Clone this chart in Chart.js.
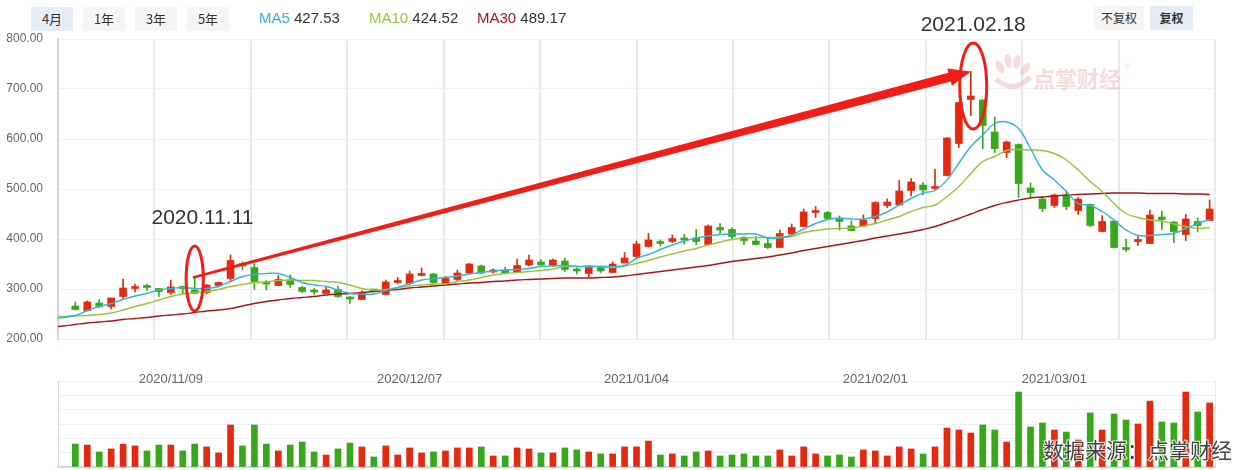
<!DOCTYPE html>
<html>
<head>
<meta charset="utf-8">
<title>K线图</title>
<style>
    body { margin: 0; background: #fff; }
    #wrap { position: relative; width: 1239px; height: 470px; overflow: hidden; font-family: "Liberation Sans", Arial, sans-serif; }
    canvas { position: absolute; left: 0; }
    #priceChart { top: 0; }
    #volChart { top: 350px; }
    .btn { position: absolute; top: 7px; height: 24px; line-height: 24px; text-align: center; font-size: 13px; color: #333;
           background: #f5f5f5; font-family: "Noto Sans CJK SC", sans-serif; }
    .btn.on { background: #e6edf6; }
    .ma { position: absolute; top: 7px; font-size: 15px; line-height: 22px; color: #333; white-space: nowrap; }
</style>
</head>
<body>
<div id="wrap">
    <canvas id="priceChart" width="1239" height="369"></canvas>
    <canvas id="volChart" width="1239" height="120"></canvas>
    <div class="btn on" style="left:31px;width:42px">4月</div>
    <div class="btn" style="left:83px;width:42px">1年</div>
    <div class="btn" style="left:135px;width:42px">3年</div>
    <div class="btn" style="left:187px;width:42px">5年</div>
    <div id="legend"></div>
    <div class="btn" style="left:1094px;top:6px;width:50px;font-size:12px">不复权</div>
    <div class="btn on" style="left:1150px;top:6px;width:43px;font-size:12px;font-weight:bold">复权</div>
</div>
<script src="https://cdn.jsdelivr.net/npm/chart.js"></script>
<script>
    // trading days shown (4月 view)
    const dates = [
        '2020/10/28','2020/10/29','2020/10/30',
        '2020/11/02','2020/11/03','2020/11/04','2020/11/05','2020/11/06','2020/11/09','2020/11/10','2020/11/11','2020/11/12','2020/11/13',
        '2020/11/16','2020/11/17','2020/11/18','2020/11/19','2020/11/20','2020/11/23','2020/11/24','2020/11/25','2020/11/26','2020/11/27','2020/11/30',
        '2020/12/01','2020/12/02','2020/12/03','2020/12/04','2020/12/07','2020/12/08','2020/12/09','2020/12/10','2020/12/11',
        '2020/12/14','2020/12/15','2020/12/16','2020/12/17','2020/12/18','2020/12/21','2020/12/22','2020/12/23','2020/12/24','2020/12/25',
        '2020/12/28','2020/12/29','2020/12/30','2020/12/31',
        '2021/01/04','2021/01/05','2021/01/06','2021/01/07','2021/01/08','2021/01/11','2021/01/12','2021/01/13','2021/01/14','2021/01/15',
        '2021/01/18','2021/01/19','2021/01/20','2021/01/21','2021/01/22','2021/01/25','2021/01/26','2021/01/27','2021/01/28','2021/01/29',
        '2021/02/01','2021/02/02','2021/02/03','2021/02/04','2021/02/05','2021/02/08','2021/02/09','2021/02/10','2021/02/18','2021/02/19',
        '2021/02/22','2021/02/23','2021/02/24','2021/02/25','2021/02/26',
        '2021/03/01','2021/03/02','2021/03/03','2021/03/04','2021/03/05','2021/03/08','2021/03/09','2021/03/10','2021/03/11','2021/03/12',
        '2021/03/15','2021/03/16','2021/03/17','2021/03/18'
    ];
    const opens = [266,257,272,265,285,301,304,301,293,302, 298,293,307,321,351,343,313,307,318,303,
                   295,291,299,282,279,297,289,313,311,327, 330,311,319,332,346,334,338,333,348,354,
                   347,356,338,331,343,333,352,365,385,392, 395,401,402,389,423,419,403,396,391,383,
                   410,425,453,453,440,426,426,441,467,468, 497,508,501,527,591,679,678,614,573,589,
                   502,480,467,487,457,469,415,436,383,395, 391,444,434,409,435,437];
    const highs = [274,276,279,282,320,310,310,301,318,306, 323,309,314,368,354,350,317,327,328,305,
                   301,305,305,285,297,298,318,323,336,342, 331,325,338,351,348,340,344,360,368,359,
                   360,362,342,347,346,354,373,396,411,398, 408,409,419,428,431,423,405,405,401,418,
                   430,460,465,455,446,436,448,475,480,517, 521,513,540,603,674,735,679,644,596,590,
                   512,485,490,496,483,470,447,437,400,405, 458,456,435,449,442,478];
    const lows = [258,256,263,260,281,294,297,285,289,290, 291,290,306,317,339,299,298,307,303,293,
                  289,291,283,271,279,294,289,311,309,326, 311,310,316,331,331,332,332,333,346,347,
                  346,335,330,323,333,333,352,361,384,386, 393,390,389,389,411,399,389,388,381,383,
                  410,424,443,441,418,417,426,431,463,468, 486,488,499,526,583,647,581,573,563,483,
                  483,455,463,459,449,425,414,382,375,387, 391,419,393,397,415,437];
    const closes = [259,274,265,282,302,303,303,295,304,301, 291,308,313,357,346,315,310,319,309,295,
                    294,298,285,280,293,296,314,316,330,330, 313,322,332,350,332,338,332,347,358,348,
                    358,339,336,346,336,350,362,390,398,391, 401,398,395,426,418,405,397,389,383,411,
                    423,454,455,441,435,417,438,473,474,496, 514,498,502,602,673,686,627,581,594,511,
                    493,461,488,465,480,427,435,383,379,398, 448,439,415,440,427,460];
    // volume, read in tenths of a grid step
    const volumes = [16,15.3,10.5,12.6,16,14.7,11.2,15.3,15.3,11.2, 16,14,9.8,29.3,14.7,29.3,16,11.2,15.3,17.4,
                     10.5,8.4,12.6,16.7,14,7,14.7,8.4,13.3,9.8, 10.5,11.2,13.3,13.3,14,7.7,7.7,13.3,12.6,9.8,
                     9.8,13.3,11.9,10.5,9.1,9.1,14,14,18.1,8.4, 9.1,7.7,10.5,11.2,7.7,8.4,9.1,7.7,7.7,11.9,
                     7.7,14,9.1,7.7,8.4,7,11.9,11.2,7.7,14, 12.6,9.1,14,27.2,25.8,23.7,29.3,25.8,17.4,52.3,
                     27.9,30.7,25.8,24.4,18.8,37.7,25.8,37,32.8,30, 46,31.4,30.7,52.3,38.4,44.7];
    // moving averages, first two values belong to the two days before 2020/10/28
    const maFrom = -2;
    const ma5 = [240,243, 247,257,265,271,279,286,291,298,301,303, 301,301,305,315,325,329,331,331,323,313,
                 308,305,298,291,290,290,297,303,311,318, 321,323,326,330,333,336,338,339,341,345,
                 346,347,345,345,345,345,347,361,369,379, 388,396,402,406,409,410,410,410,402,402,
                 408,420,431,439,442,440,440,445,454,468, 481,492,497,518,552,585,608,631,634,621,
                 581,538,518,495,471,467,455,438,418,407, 407,409,411,421,431,439];
    const ma10 = [244,245, 246,247,249,252,258,265,271,278,285,290, 293,295,299,305,309,313,314,317,318,317,
                  317,315,313,308,301,298,299,303,306,308, 310,310,315,318,323,328,331,333,335,337,
                  340,345,345,345,345,343,346,351,357,364, 370,376,381,388,394,399,402,403,403,404,
                  405,413,417,420,421,422,426,431,438,445, 455,463,468,485,505,531,555,565,577,579,
                  578,577,571,558,538,515,495,471,451,443, 438,436,430,425,421,423];
    const ma30 = [224,226, 229,232,234,236,239,241,243,246,248,250, 253,256,258,261,266,271,275,278,281,283,
                  285,288,290,291,293,295,297,299,302,304, 306,308,310,312,313,315,316,318,319,320,
                  321,322,322,322,323,324,326,329,332,335, 338,341,344,347,351,355,358,361,364,368,
                  372,377,381,385,389,393,397,402,406,410, 414,419,425,433,441,450,459,467,473,478,
                  482,484,486,488,489,490,491,492,492,492, 491,491,491,490,490,489];

    const maNames = ['MA5', 'MA10', 'MA30'];
    const maLast = ['427.53', '424.52', '489.17'];
    const tickDates = ['2020/11/09', '2020/12/07', '2021/01/04', '2021/02/01', '2021/03/01'];
    const markDates = ['2020/11/11', '2021/02/18'];

    const upColor = '#e4290f';
    const downColor = '#37a817';
    const maColors = ['#34b4d9', '#98c43b', '#a5161d'];
    const markRed = '#f21d17';
    const xMin = -1.45, xMax = 95.45;

    Chart.defaults.font.family = '"Liberation Sans", Arial, sans-serif';
    Chart.defaults.animation = false;

    // header legend
    const legendLeft = [259, 369, 477];
    document.getElementById('legend').innerHTML = maNames.map((n, k) =>
        '<div class="ma" style="left:' + legendLeft[k] + 'px"><span style="color:' + maColors[k] + '">' + n + '</span> ' + maLast[k] + '</div>'
    ).join('');

    const candleColors = closes.map((c, i) => c >= opens[i] ? upColor : downColor);
    const idx = d => dates.indexOf(d);
    const i1 = idx(markDates[0]), i2 = idx(markDates[1]);

    const markPlugin = {
        id: 'marks',
        beforeDatasetsDraw(chart) {
            // faint watermark
            const ctx = chart.ctx, area = chart.chartArea;
            ctx.save();
            ctx.fillStyle = 'rgba(236,150,150,0.35)';
            const lx = area.right - 215, ly = area.top + 22;
            [[0, 6, -0.5], [8, 0, -0.15], [17, 1, 0.2], [25, 8, 0.6]].forEach(p => {
                ctx.beginPath(); ctx.ellipse(lx + p[0], ly + p[1], 3.5, 7, p[2], 0, Math.PI * 2); ctx.fill();
            });
            ctx.lineWidth = 5; ctx.strokeStyle = 'rgba(236,150,150,0.35)';
            ctx.beginPath(); ctx.moveTo(lx - 4, ly + 18); ctx.quadraticCurveTo(lx + 14, ly + 34, lx + 30, ly + 16); ctx.stroke();
            ctx.font = 'bold 22px "Noto Sans CJK SC", sans-serif';
            ctx.textBaseline = 'middle';
            ctx.fillText('点掌财经', lx + 33, ly + 18);
            ctx.font = '9px "Liberation Sans", sans-serif';
            ctx.fillText('®', lx + 124, ly + 7);
            ctx.restore();
        },
        afterDatasetsDraw(chart) {
            const {ctx, scales: {x, y}} = chart;
            ctx.save();
            // rings round the two marked candles
            ctx.strokeStyle = markRed; ctx.lineWidth = 3;
            [[i1, 321, 0.72, 65], [i2 + 0.2, 706, 1.13, 86]].forEach(r => {
                const cx = x.getPixelForValue(r[0]), cy = y.getPixelForValue(r[1]);
                const rx = Math.abs(x.getPixelForValue(r[0] + r[2]) - cx);
                const ry = Math.abs(y.getPixelForValue(r[1] + r[3]) - cy);
                ctx.beginPath(); ctx.ellipse(cx, cy, rx, ry, 0, 0, Math.PI * 2); ctx.stroke();
            });
            // arrow from the 11/11 high to the 02/18 high
            const x0 = x.getPixelForValue(i1 - 0.15), y0 = y.getPixelForValue(highs[i1]);
            const x1 = x.getPixelForValue(i2), y1 = y.getPixelForValue(highs[i2]);
            const len = Math.hypot(x1 - x0, y1 - y0);
            const ux = (x1 - x0) / len, uy = (y1 - y0) / len, nx = -uy, ny = ux;
            const headLen = 22, headW = 9, w0 = 1.2, w1 = 4.6;
            const bx = x1 - ux * headLen, by = y1 - uy * headLen;
            ctx.fillStyle = markRed;
            ctx.beginPath();
            ctx.moveTo(x0 + nx * w0, y0 + ny * w0);
            ctx.lineTo(bx + nx * w1, by + ny * w1);
            ctx.lineTo(bx + nx * headW, by + ny * headW);
            ctx.lineTo(x1, y1);
            ctx.lineTo(bx - nx * headW, by - ny * headW);
            ctx.lineTo(bx - nx * w1, by - ny * w1);
            ctx.lineTo(x0 - nx * w0, y0 - ny * w0);
            ctx.closePath();
            ctx.fill();
            // date captions
            ctx.font = '21px "Liberation Sans", Arial, sans-serif';
            ctx.fillStyle = '#333'; ctx.textAlign = 'center'; ctx.textBaseline = 'middle';
            ctx.fillText(markDates[0].replace(/\//g, '.'), x.getPixelForValue(i1 + 0.65), y.getPixelForValue(442));
            ctx.fillText(markDates[1].replace(/\//g, '.'), x.getPixelForValue(i2 + 0.2), y.getPixelForValue(828));
            ctx.restore();
        }
    };

    const evenTicks = axis => {
        axis.ticks = [];
        for (let k = 0; k <= 12; k++) axis.ticks.push({value: xMin + k * (xMax - xMin) / 12});
    };
    const maSet = (vals, k) => ({
        type: 'line', label: maNames[k],
        data: vals.map((v, j) => ({x: j + maFrom, y: v})),
        borderColor: maColors[k], borderWidth: 1.4, pointRadius: 0, tension: 0.4, clip: 0
    });

    new Chart(document.getElementById('priceChart'), {
        type: 'bar',
        data: {
            datasets: [
                maSet(ma5, 0), maSet(ma10, 1), maSet(ma30, 2),
                {label: 'body', data: opens.map((o, i) => ({x: i, y: [o, closes[i]]})),
                 backgroundColor: candleColors, barThickness: 7, minBarLength: 2, grouped: false},
                {label: 'wick', data: lows.map((l, i) => ({x: i, y: [l, highs[i]]})),
                 backgroundColor: candleColors, barThickness: 1, grouped: false}
            ]
        },
        options: {
            responsive: false,
            devicePixelRatio: 1,
            layout: {padding: {top: 39, right: 24, bottom: 30, left: 0}},
            plugins: {legend: {display: false}, tooltip: {enabled: false}},
            scales: {
                x: {
                    type: 'linear', min: xMin, max: xMax, offset: false,
                    afterBuildTicks: evenTicks,
                    afterFit: s => { s.height = 0; },
                    ticks: {display: false},
                    grid: {color: '#e5eaf1', lineWidth: 2, drawTicks: false, offset: false},
                    border: {display: false}
                },
                y: {
                    min: 200, max: 800,
                    afterFit: s => { s.width = 58; },
                    ticks: {stepSize: 100, padding: 15, color: '#666', font: {size: 12}, callback: v => v.toFixed(2)},
                    grid: {color: '#edf0f4', drawTicks: false},
                    border: {color: '#cdd7e5', width: 2}
                }
            }
        },
        plugins: [markPlugin]
    });

    const volPlugin = {
        id: 'volText',
        afterDraw(chart) {
            const {ctx, chartArea, scales: {x}} = chart;
            ctx.save();
            ctx.font = '13px "Liberation Sans", Arial, sans-serif';
            ctx.fillStyle = '#666'; ctx.textAlign = 'center'; ctx.textBaseline = 'middle';
            tickDates.forEach(d => ctx.fillText(d, x.getPixelForValue(idx(d)), chartArea.top - 2));
            ctx.font = '21px "Noto Sans CJK SC", sans-serif';
            ctx.textAlign = 'right';
            ctx.lineWidth = 2; ctx.strokeStyle = 'rgba(255,255,255,0.85)';
            ctx.strokeText('数据来源：点掌财经', chartArea.right + 17, chartArea.bottom - 17);
            ctx.fillStyle = '#444';
            ctx.fillText('数据来源：点掌财经', chartArea.right + 17, chartArea.bottom - 17);
            ctx.restore();
        }
    };

    new Chart(document.getElementById('volChart'), {
        type: 'bar',
        data: {
            datasets: [{label: 'vol', data: volumes.map((v, i) => ({x: i, y: v})),
                        backgroundColor: candleColors, barThickness: 6, grouped: false}]
        },
        options: {
            responsive: false,
            devicePixelRatio: 1,
            layout: {padding: {top: 31, right: 24, bottom: 3, left: 0}},
            plugins: {legend: {display: false}, tooltip: {enabled: false}},
            scales: {
                x: {
                    type: 'linear', min: xMin, max: xMax, offset: false,
                    afterBuildTicks: axis => { axis.ticks = [{value: xMin}, {value: xMax}]; },
                    afterFit: s => { s.height = 0; },
                    ticks: {display: false},
                    grid: {color: '#e5eaf1', drawTicks: false, offset: false},
                    border: {color: '#cdd7e5', width: 2}
                },
                y: {
                    min: 0, max: 60,
                    afterFit: s => { s.width = 58; },
                    ticks: {display: false, stepSize: 10},
                    grid: {color: '#edf0f4', drawTicks: false},
                    border: {color: '#cdd7e5', width: 1}
                }
            }
        },
        plugins: [volPlugin]
    });
</script>
</body>
</html>
